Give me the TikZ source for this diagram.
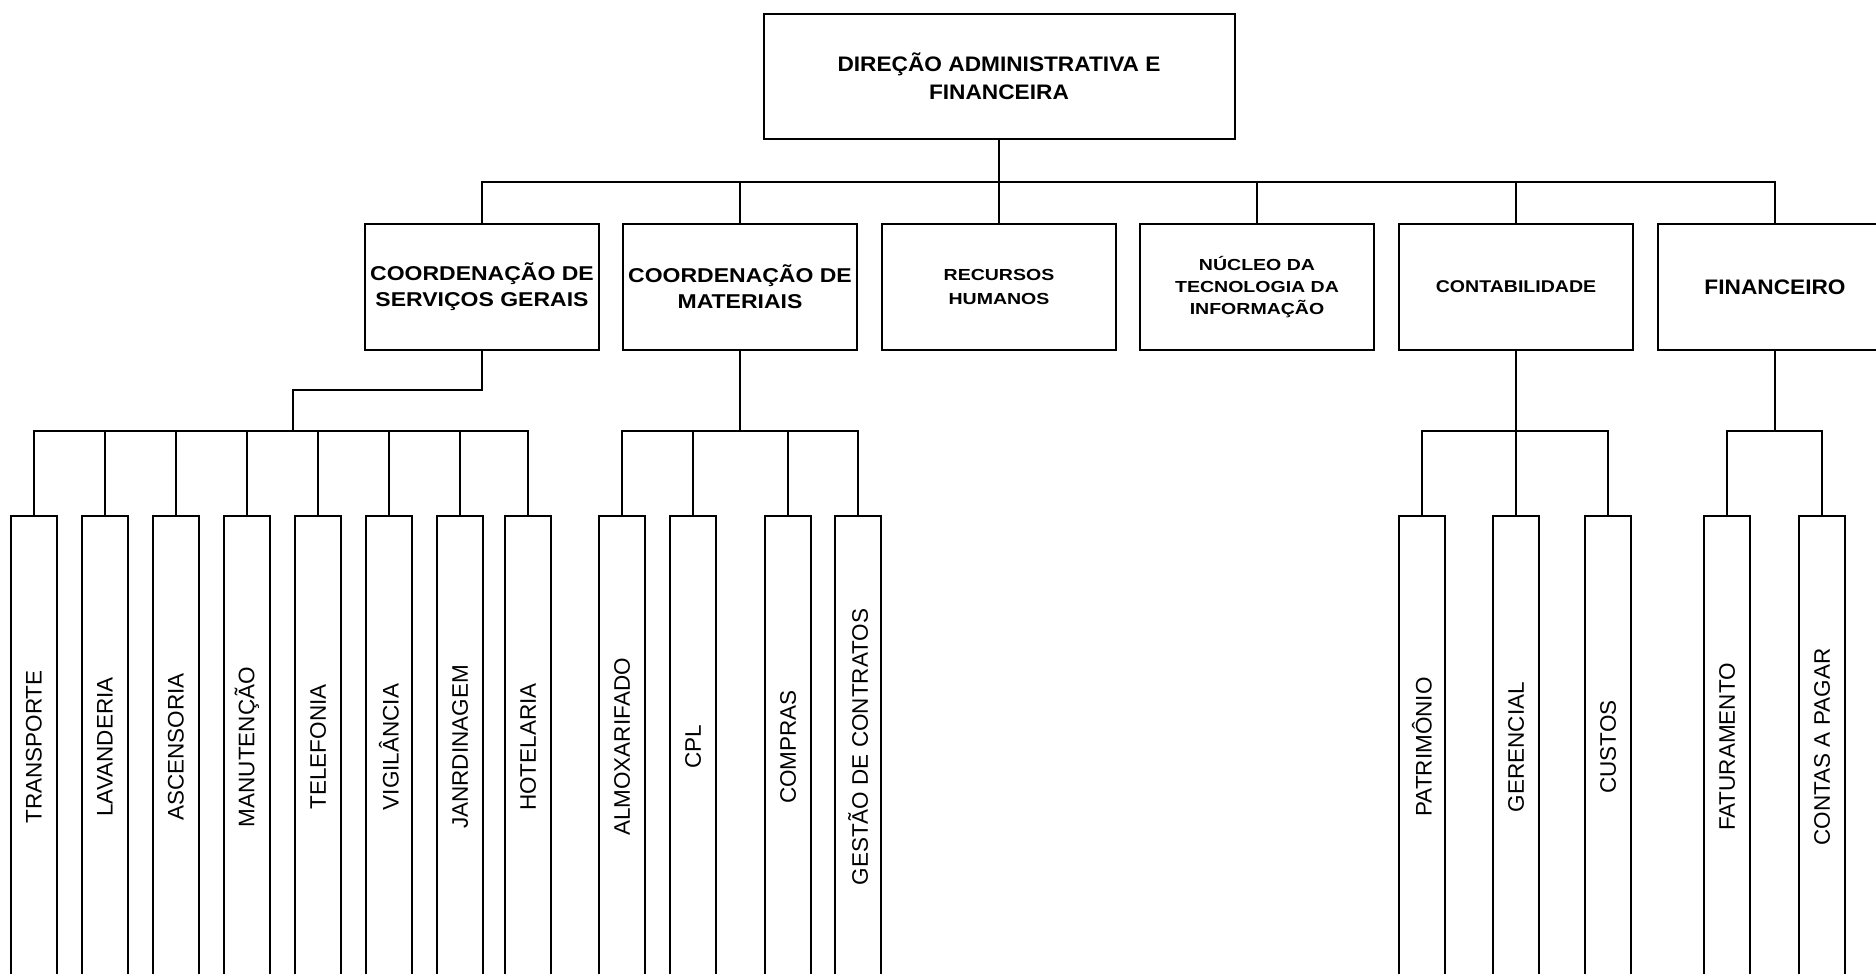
\documentclass[tikz,border=0pt]{standalone}
\usepackage{fontspec}
\setmainfont{Liberation Sans}
% slightly widened sans faces for the unit boxes
\newfontfamily\wideA[FakeStretch=1.08]{Liberation Sans}
\newfontfamily\wideB[FakeStretch=1.15]{Liberation Sans}
\newfontfamily\wideC[FakeStretch=1.22]{Liberation Sans}

\begin{document}
\begin{tikzpicture}[x=1pt,y=-1pt,
  line width=2pt,
  box/.style={draw, line width=2pt, rectangle, inner sep=0pt, align=center},
  unit/.style={box, minimum width=234pt, minimum height=126pt},
  leafbox/.style={draw, line width=2pt, inner sep=0pt, minimum width=46pt,
                  minimum height=462pt, anchor=north},
  leaftext/.style={rotate=90, inner sep=0pt, font=\fontsize{22.5}{26}\selectfont},
  conn/.style={draw, line width=2pt},
]
\useasboundingbox (0,0) rectangle (1876,974);
\clip (0,0) rectangle (1876,974);

% top of the hierarchy
\node[box, minimum width=471pt, minimum height=125pt,
      font={\wideA\bfseries\fontsize{21}{28}\selectfont}] (top) at (999,76.5)
  {DIREÇÃO ADMINISTRATIVA E\\FINANCEIRA};

% second level units
\node[unit, font={\wideB\bfseries\fontsize{20}{26}\selectfont}] (c1) at (482,287)
  {COORDENAÇÃO DE\\SERVIÇOS GERAIS};
\node[unit, font={\wideB\bfseries\fontsize{20}{26}\selectfont}] (c2) at (740,287)
  {COORDENAÇÃO DE\\MATERIAIS};
\node[unit, font={\wideC\bfseries\fontsize{16}{24}\selectfont}] (c3) at (999,287)
  {RECURSOS\\HUMANOS};
\node[unit, font={\wideC\bfseries\fontsize{16}{22}\selectfont}] (c4) at (1257,287)
  {NÚCLEO DA\\TECNOLOGIA DA\\INFORMAÇÃO};
\node[unit, font={\wideB\bfseries\fontsize{17}{22}\selectfont}] (c5) at (1516,287)
  {CONTABILIDADE};
\node[unit, font={\wideA\bfseries\fontsize{21}{26}\selectfont}] (c6) at (1775,287)
  {FINANCEIRO};

% bus lines
\coordinate (busA) at (0,182);
\coordinate (busB) at (0,431);
\coordinate (elb) at (293,390);

\draw[conn] (top.south) -- (top.south |- busA);
\draw[conn] (c1.north) -- (c1.north |- busA) -- (c6.north |- busA) -- (c6.north);
\foreach \n in {c2,c3,c4,c5}
  \draw[conn] (\n.north) -- (\n.north |- busA);

% third level boxes with vertical labels
\foreach \n/\x/\t in {s1/34/TRANSPORTE, s2/105/LAVANDERIA, s3/176/ASCENSORIA,
                      s4/247/MANUTENÇÃO, s5/318/TELEFONIA, s6/389/VIGILÂNCIA,
                      s7/460/JANRDINAGEM, s8/528/HOTELARIA,
                      m1/622/ALMOXARIFADO, m2/693/CPL, m3/788/COMPRAS,
                      m4/858/GESTÃO DE CONTRATOS,
                      k1/1422/PATRIMÔNIO, k2/1516/GERENCIAL, k3/1608/CUSTOS,
                      f1/1727/FATURAMENTO, f2/1822/CONTAS A PAGAR} {
  \node[leafbox] (\n) at (\x,515) {};
  \node[leaftext] (\n t) at (\n.center) {\t};
}

% serviços gerais branch
\draw[conn] (c1.south) -- (c1.south |- elb) -- (elb) -- (elb |- busB);
\draw[conn] (s1.north) -- (s1.north |- busB) -- (s8.north |- busB) -- (s8.north);
\foreach \n in {s2,s3,s4,s5,s6,s7}
  \draw[conn] (\n.north) -- (\n.north |- busB);

% materiais branch
\draw[conn] (c2.south) -- (c2.south |- busB);
\draw[conn] (m1.north) -- (m1.north |- busB) -- (m4.north |- busB) -- (m4.north);
\foreach \n in {m2,m3}
  \draw[conn] (\n.north) -- (\n.north |- busB);

% contabilidade branch
\draw[conn] (c5.south) -- (k2.north);
\draw[conn] (k1.north) -- (k1.north |- busB) -- (k3.north |- busB) -- (k3.north);

% financeiro branch
\draw[conn] (c6.south) -- (c6.south |- busB);
\draw[conn] (f1.north) -- (f1.north |- busB) -- (f2.north |- busB) -- (f2.north);
\end{tikzpicture}
\end{document}
